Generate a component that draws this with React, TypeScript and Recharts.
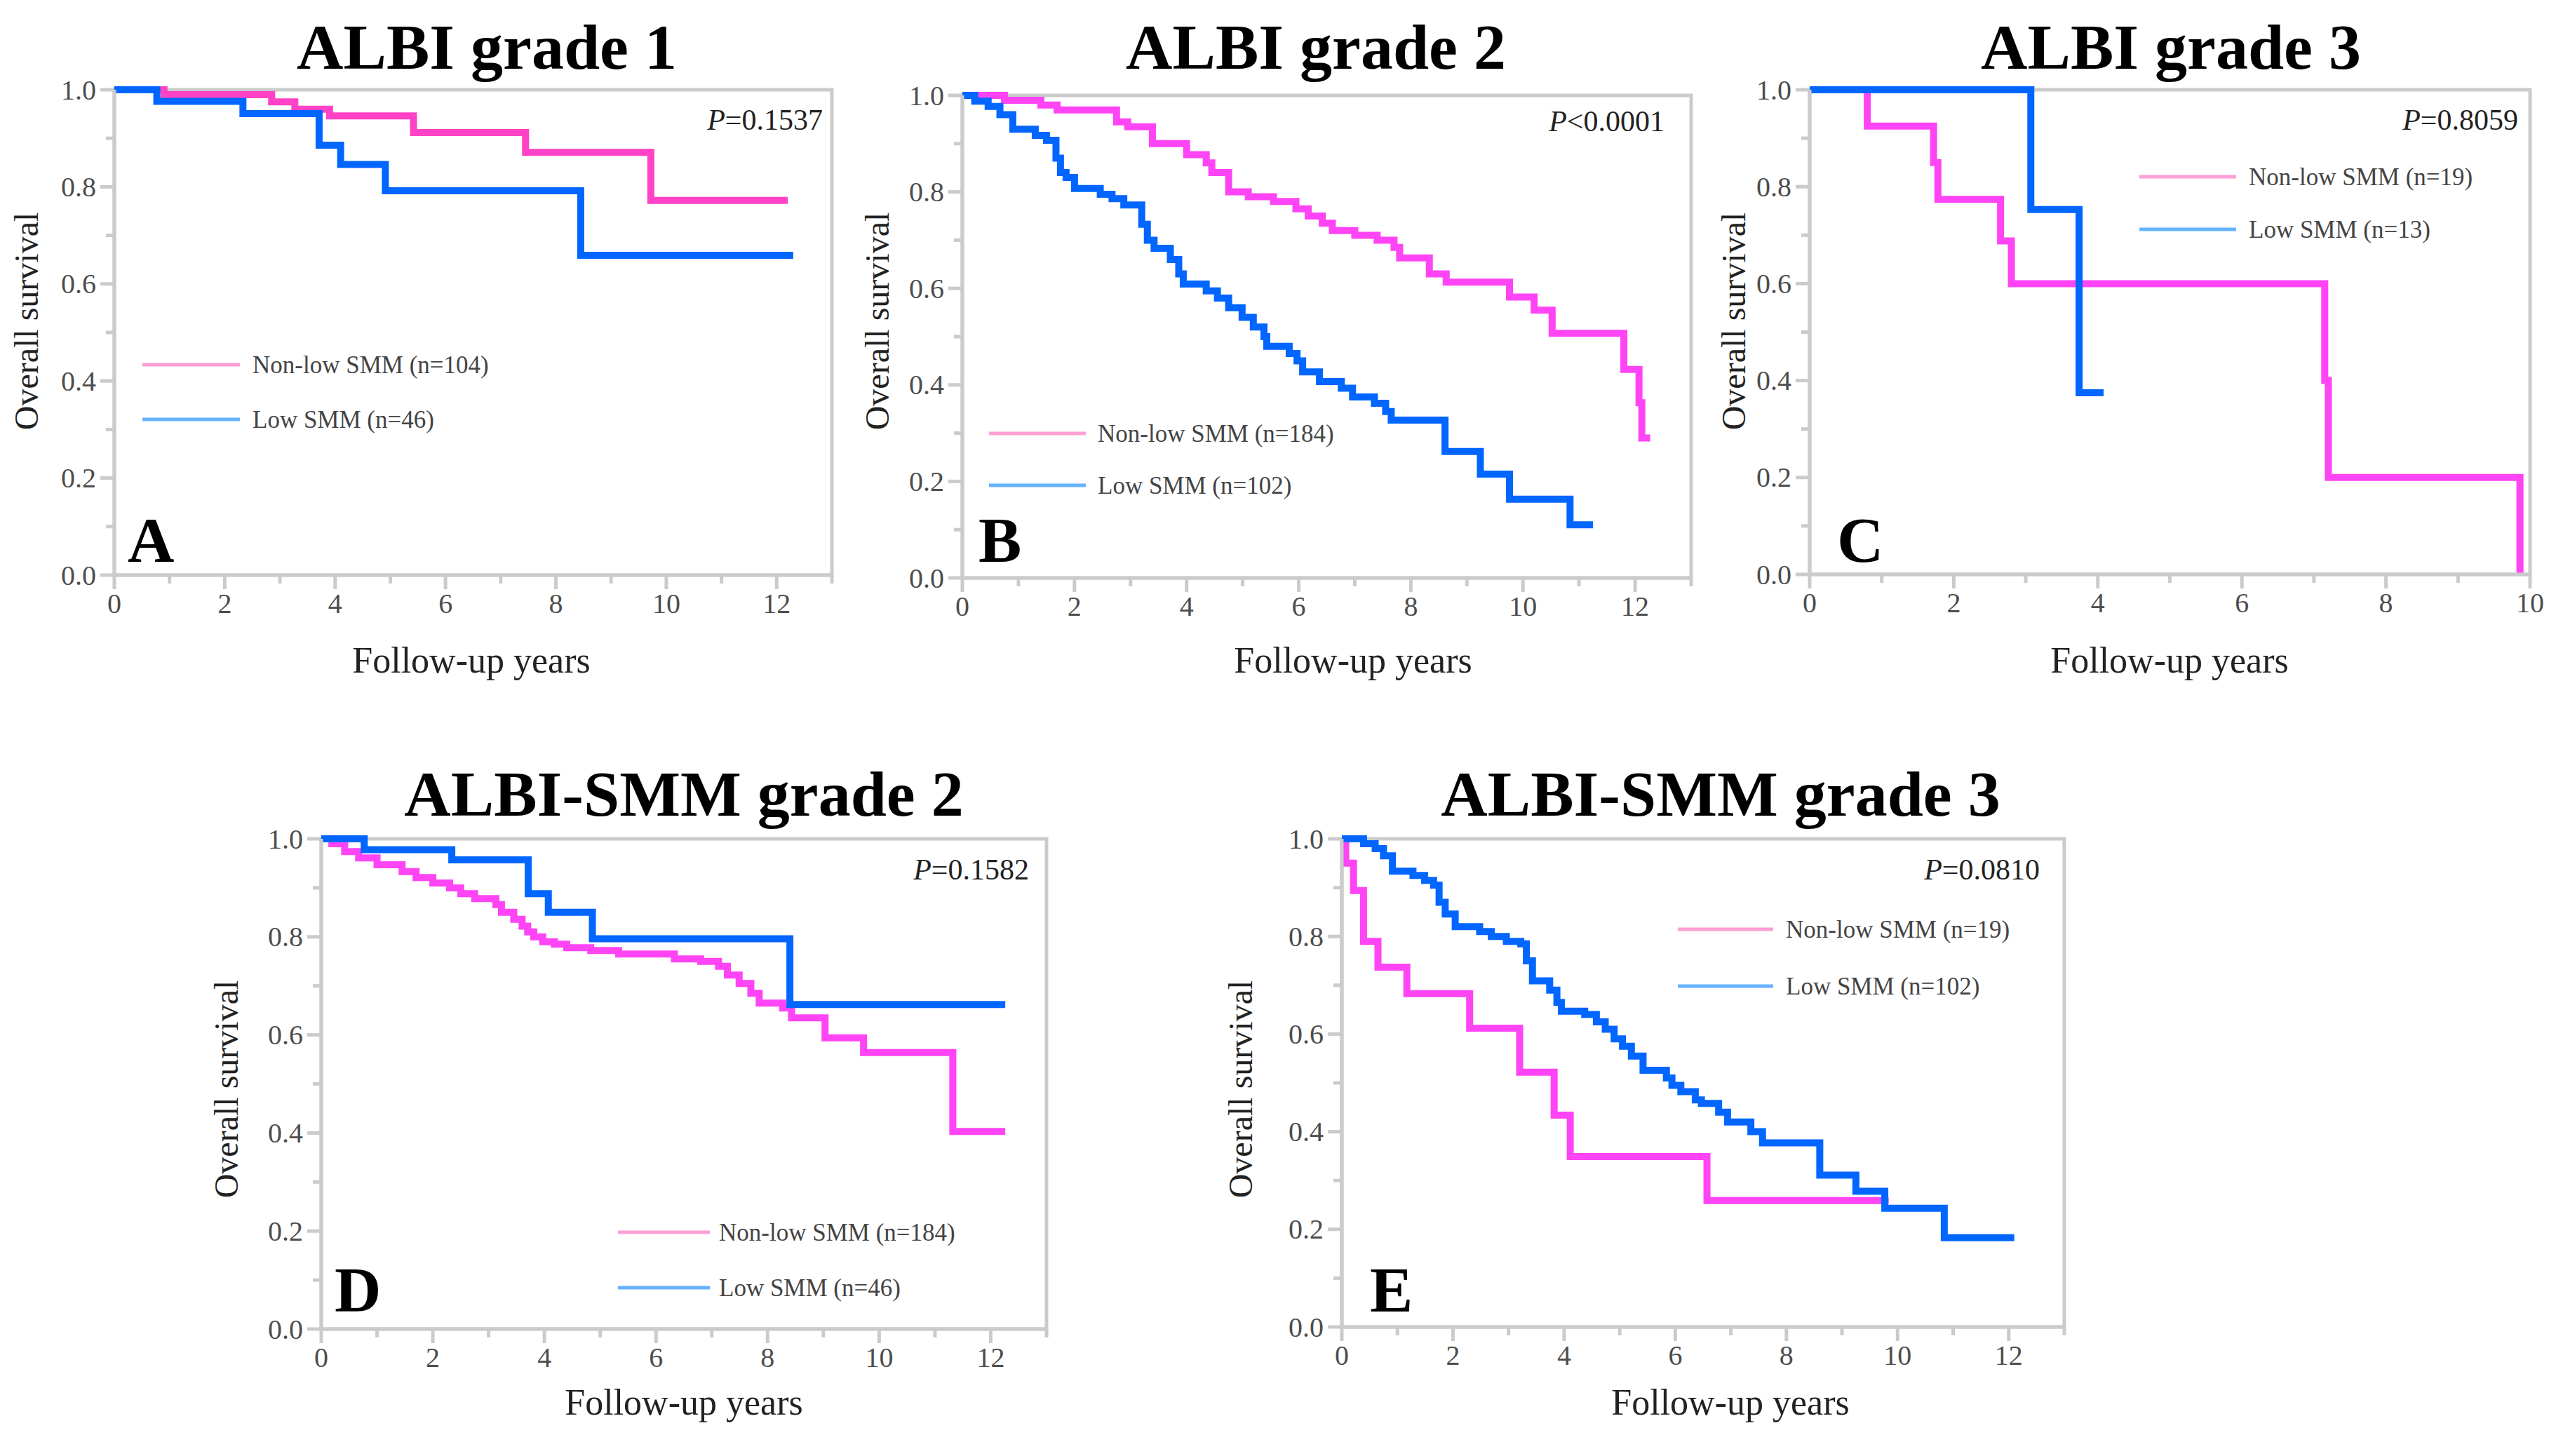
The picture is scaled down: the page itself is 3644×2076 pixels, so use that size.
import React from 'react';
import { LineChart, Line, XAxis, YAxis, ReferenceArea } from 'recharts';

// ---------- data (time in years, overall survival) ----------
const aNonLow: number[][] = [[0, 1], [0.9, 0.99], [2.85, 0.975], [3.27, 0.96], [3.9, 0.946], [5.42, 0.912], [7.45, 0.871], [9.72, 0.772], [12.2, 0.772]];
const aLow: number[][] = [[0, 1], [0.77, 0.976], [2.33, 0.951], [3.71, 0.886], [4.1, 0.846], [4.91, 0.792], [8.45, 0.659], [12.3, 0.659]];

const bNonLow: number[][] = [[0, 1], [0.75, 0.99], [1.4, 0.98], [1.69, 0.97], [2.75, 0.945], [2.95, 0.935], [3.39, 0.9], [4.0, 0.877], [4.35, 0.86], [4.45, 0.84], [4.75, 0.8], [5.1, 0.79], [5.55, 0.78], [5.95, 0.765], [6.17, 0.75], [6.42, 0.735], [6.6, 0.72], [7.0, 0.71], [7.4, 0.7], [7.7, 0.685], [7.8, 0.663], [8.33, 0.63], [8.63, 0.613], [9.76, 0.582], [10.2, 0.555], [10.52, 0.507], [11.8, 0.432], [12.07, 0.363], [12.12, 0.29], [12.27, 0.29]];
const bLow: number[][] = [[0, 1], [0.22, 0.988], [0.46, 0.977], [0.67, 0.96], [0.9, 0.93], [1.3, 0.917], [1.5, 0.907], [1.67, 0.87], [1.75, 0.84], [1.85, 0.83], [2.0, 0.807], [2.46, 0.795], [2.67, 0.786], [2.88, 0.773], [3.2, 0.733], [3.3, 0.7], [3.42, 0.683], [3.71, 0.66], [3.86, 0.63], [3.94, 0.609], [4.35, 0.595], [4.55, 0.58], [4.75, 0.56], [4.99, 0.54], [5.19, 0.52], [5.38, 0.5], [5.43, 0.48], [5.83, 0.465], [5.97, 0.45], [6.07, 0.427], [6.37, 0.407], [6.76, 0.393], [6.96, 0.375], [7.35, 0.362], [7.55, 0.345], [7.65, 0.327], [8.61, 0.262], [9.24, 0.215], [9.76, 0.163], [10.84, 0.11], [11.25, 0.11]];

const cNonLow: number[][] = [[0, 1], [0.8, 0.925], [1.72, 0.85], [1.78, 0.774], [2.65, 0.688], [2.8, 0.6], [7.15, 0.4], [7.2, 0.2], [9.86, 0.0]];
const cLow: number[][] = [[0, 1], [3.07, 0.753], [3.74, 0.375], [4.08, 0.375]];

const dNonLow: number[][] = [[0, 1], [0.19, 0.99], [0.42, 0.974], [0.67, 0.961], [1.0, 0.947], [1.45, 0.933], [1.7, 0.921], [2.0, 0.91], [2.3, 0.9], [2.5, 0.888], [2.75, 0.878], [3.13, 0.866], [3.23, 0.85], [3.45, 0.836], [3.6, 0.822], [3.7, 0.81], [3.81, 0.8], [3.97, 0.79], [4.18, 0.785], [4.4, 0.778], [4.83, 0.772], [5.33, 0.765], [6.33, 0.755], [6.8, 0.75], [7.12, 0.74], [7.28, 0.722], [7.49, 0.705], [7.7, 0.685], [7.85, 0.665], [8.27, 0.655], [8.43, 0.635], [9.03, 0.594], [9.72, 0.564], [11.32, 0.403], [12.26, 0.403]];
const dLow: number[][] = [[0, 1], [0.77, 0.978], [2.34, 0.957], [3.71, 0.888], [4.07, 0.85], [4.86, 0.796], [8.4, 0.662], [12.26, 0.662]];

const eNonLow: number[][] = [[0, 1], [0.07, 0.95], [0.21, 0.894], [0.39, 0.79], [0.65, 0.737], [1.17, 0.683], [2.3, 0.612], [3.2, 0.522], [3.82, 0.434], [4.11, 0.349], [6.57, 0.259], [9.84, 0.259]];
const eLow: number[][] = [[0, 1], [0.39, 0.99], [0.6, 0.98], [0.75, 0.965], [0.91, 0.934], [1.28, 0.925], [1.49, 0.915], [1.65, 0.905], [1.75, 0.87], [1.86, 0.846], [2.04, 0.82], [2.48, 0.81], [2.69, 0.8], [2.96, 0.79], [3.22, 0.785], [3.32, 0.75], [3.43, 0.709], [3.74, 0.69], [3.87, 0.665], [3.95, 0.647], [4.37, 0.64], [4.58, 0.625], [4.74, 0.61], [4.9, 0.59], [5.05, 0.575], [5.21, 0.555], [5.42, 0.526], [5.84, 0.51], [5.94, 0.495], [6.1, 0.482], [6.36, 0.465], [6.47, 0.458], [6.78, 0.44], [6.94, 0.42], [7.36, 0.4], [7.57, 0.377], [8.6, 0.311], [9.25, 0.278], [9.77, 0.243], [10.84, 0.183], [12.1, 0.183]];

const xTicks13 = [0, 1, 2, 3, 4, 5, 6, 7, 8, 9, 10, 11, 12, 13];
const xTicks10 = [0, 1, 2, 3, 4, 5, 6, 7, 8, 9, 10];
const yTicks = [0, 0.1, 0.2, 0.3, 0.4, 0.5, 0.6, 0.7, 0.8, 0.9, 1.0];

const titles = ['ALBI grade 1', 'ALBI grade 2', 'ALBI grade 3', 'ALBI-SMM grade 2', 'ALBI-SMM grade 3'];
const letters = ['A', 'B', 'C', 'D', 'E'];
const pValues = ['=0.1537', '<0.0001', '=0.8059', '=0.1582', '=0.0810'];
const nonLowLabels = ['Non-low SMM (n=104)', 'Non-low SMM (n=184)', 'Non-low SMM (n=19)', 'Non-low SMM (n=184)', 'Non-low SMM (n=19)'];
const lowLabels = ['Low SMM (n=46)', 'Low SMM (n=102)', 'Low SMM (n=13)', 'Low SMM (n=46)', 'Low SMM (n=102)'];
const xLabel = 'Follow-up years';
const yLabel = 'Overall survival';

// ---------- layout / style ----------
const FONT = '"Liberation Serif", "Times New Roman", serif';
const AXIS = '#cbcbcb';
const TICKTXT = '#4d4d4d';
const BLUE = '#0066ff';
const LEG_PINK = '#ff9fd6';
const LEG_BLUE = '#66b3ff';

type Layout = {
  l: number; t: number; r: number; b: number; xMax: number;
  title: [number, number]; xl: [number, number]; yl: [number, number];
  letter: [number, number]; p: [number, number];
  leg: { x1: number; x2: number; y1: number; y2: number; tx: number };
  pink: string;
};

const layouts: Layout[] = [
  { l: 163, t: 128, r: 1186, b: 820, xMax: 13, title: [694, 98], xl: [672, 959], yl: [37, 458], letter: [182, 801], p: [1173, 171], leg: { x1: 203, x2: 342, y1: 520, y2: 598, tx: 360 }, pink: '#ff42c6' },
  { l: 1372, t: 136, r: 2411, b: 824, xMax: 13, title: [1876, 98], xl: [1929, 959], yl: [1250, 458], letter: [1395, 801], p: [2373, 173], leg: { x1: 1410, x2: 1548, y1: 618, y2: 692, tx: 1565 }, pink: '#ff44f6' },
  { l: 2580, t: 128, r: 3607, b: 819, xMax: 10, title: [3095, 98], xl: [3093, 959], yl: [2471, 458], letter: [2619, 801], p: [3590, 171], leg: { x1: 3050, x2: 3188, y1: 252, y2: 327, tx: 3206 }, pink: '#ff44f6' },
  { l: 458, t: 1196, r: 1492, b: 1895, xMax: 13, title: [975, 1163], xl: [975, 2017], yl: [322, 1553], letter: [477, 1870], p: [1467, 1240], leg: { x1: 881, x2: 1012, y1: 1757, y2: 1836, tx: 1025 }, pink: '#ff44f6' },
  { l: 1913, t: 1196, r: 2943, b: 1892, xMax: 13, title: [2453, 1163], xl: [2467, 2017], yl: [1768, 1553], letter: [1953, 1870], p: [2908, 1240], leg: { x1: 2392, x2: 2528, y1: 1325, y2: 1406, tx: 2546 }, pink: '#ff44f6' },
];

const series = [
  [aNonLow, aLow],
  [bNonLow, bLow],
  [cNonLow, cLow],
  [dNonLow, dLow],
  [eNonLow, eLow],
];

const toPts = (arr: number[][]) => arr.map(([t, s]) => ({ t, s }));

const ML = 120;
const MT = 50;
const MR = 30;
const MB = 90;

const XTick = (props: any) => {
  const { x, y, payload } = props;
  const v = payload.value as number;
  const major = v % 2 === 0;
  return (
    <g>
      <line x1={x} y1={y} x2={x} y2={y + (major ? 20 : 12)} stroke={AXIS} strokeWidth={5} />
      {major && (
        <text x={x} y={y + 54} textAnchor="middle" fontFamily={FONT} fontSize={40} fill={TICKTXT}>
          {String(v)}
        </text>
      )}
    </g>
  );
};

const YTick = (props: any) => {
  const { x, y, payload } = props;
  const v = payload.value as number;
  const major = Math.round(v * 10) % 2 === 0;
  return (
    <g>
      <line x1={x} y1={y} x2={x - (major ? 20 : 12)} y2={y} stroke={AXIS} strokeWidth={5} />
      {major && (
        <text x={x - 26} y={y} textAnchor="end" dominantBaseline="central" fontFamily={FONT} fontSize={40} fill={TICKTXT}>
          {v.toFixed(1)}
        </text>
      )}
    </g>
  );
};

const Panel = ({ i }: { i: number }) => {
  const L = layouts[i];
  const pw = L.r - L.l;
  const ph = L.b - L.t;
  const [nonLow, low] = series[i];
  const ticks = L.xMax === 10 ? xTicks10 : xTicks13;
  return (
    <div style={{ position: 'absolute', left: L.l - ML, top: L.t - MT }}>
      <LineChart width={pw + ML + MR} height={ph + MT + MB} margin={{ top: MT, right: MR, bottom: 0, left: 0 }} style={{ overflow: 'visible' }}>
        <XAxis
          dataKey="t"
          type="number"
          domain={[0, L.xMax]}
          ticks={ticks}
          interval={0}
          height={MB}
          tickSize={0}
          tickMargin={0}
          tickLine={false}
          axisLine={{ stroke: AXIS, strokeWidth: 5 }}
          tick={(p: any) => <XTick {...p} />}
        />
        <YAxis
          type="number"
          domain={[0, 1]}
          ticks={yTicks}
          interval={0}
          width={ML}
          tickSize={0}
          tickMargin={0}
          tickLine={false}
          axisLine={{ stroke: AXIS, strokeWidth: 5 }}
          tick={(p: any) => <YTick {...p} />}
        />
        <ReferenceArea x1={0} x2={L.xMax} y1={0} y2={1} fill="none" fillOpacity={0} stroke={AXIS} strokeWidth={5} ifOverflow="visible" />
        <Line data={toPts(nonLow)} dataKey="s" type="stepAfter" stroke={L.pink} strokeWidth={10} dot={false} activeDot={false} isAnimationActive={false} />
        <Line data={toPts(low)} dataKey="s" type="stepAfter" stroke={BLUE} strokeWidth={10} dot={false} activeDot={false} isAnimationActive={false} />
      </LineChart>
    </div>
  );
};

const Overlay = () => (
  <svg width={3644} height={2076} style={{ position: 'absolute', left: 0, top: 0, pointerEvents: 'none' }}>
    {layouts.map((L, i) => (
      <g key={i} fontFamily={FONT}>
        <text x={L.title[0]} y={L.title[1]} textAnchor="middle" fontSize={92} fontWeight="bold" fill="#000">{titles[i]}</text>
        <text x={L.xl[0]} y={L.xl[1]} textAnchor="middle" fontSize={52} fill="#222">{xLabel}</text>
        <text x={L.yl[0]} y={L.yl[1]} textAnchor="middle" dominantBaseline="central" fontSize={48} fill="#222" transform={`rotate(-90 ${L.yl[0]} ${L.yl[1]})`}>{yLabel}</text>
        <text x={L.letter[0]} y={L.letter[1]} fontSize={92} fontWeight="bold" fill="#000">{letters[i]}</text>
        <text x={L.p[0]} y={L.p[1]} textAnchor="end" dominantBaseline="central" fontSize={42} fill="#222">
          <tspan fontStyle="italic">P</tspan>
          <tspan>{pValues[i]}</tspan>
        </text>
        <line x1={L.leg.x1} y1={L.leg.y1} x2={L.leg.x2} y2={L.leg.y1} stroke={LEG_PINK} strokeWidth={5} />
        <line x1={L.leg.x1} y1={L.leg.y2} x2={L.leg.x2} y2={L.leg.y2} stroke={LEG_BLUE} strokeWidth={5} />
        <text x={L.leg.tx} y={L.leg.y1} dominantBaseline="central" fontSize={35} fill="#444">{nonLowLabels[i]}</text>
        <text x={L.leg.tx} y={L.leg.y2} dominantBaseline="central" fontSize={35} fill="#444">{lowLabels[i]}</text>
      </g>
    ))}
  </svg>
);

export default function App() {
  return (
    <div style={{ position: 'absolute', left: 0, top: 0, width: 3644, height: 2076, background: '#fff', overflow: 'hidden' }}>
      {layouts.map((_, i) => (
        <Panel key={i} i={i} />
      ))}
      <Overlay />
    </div>
  );
}
